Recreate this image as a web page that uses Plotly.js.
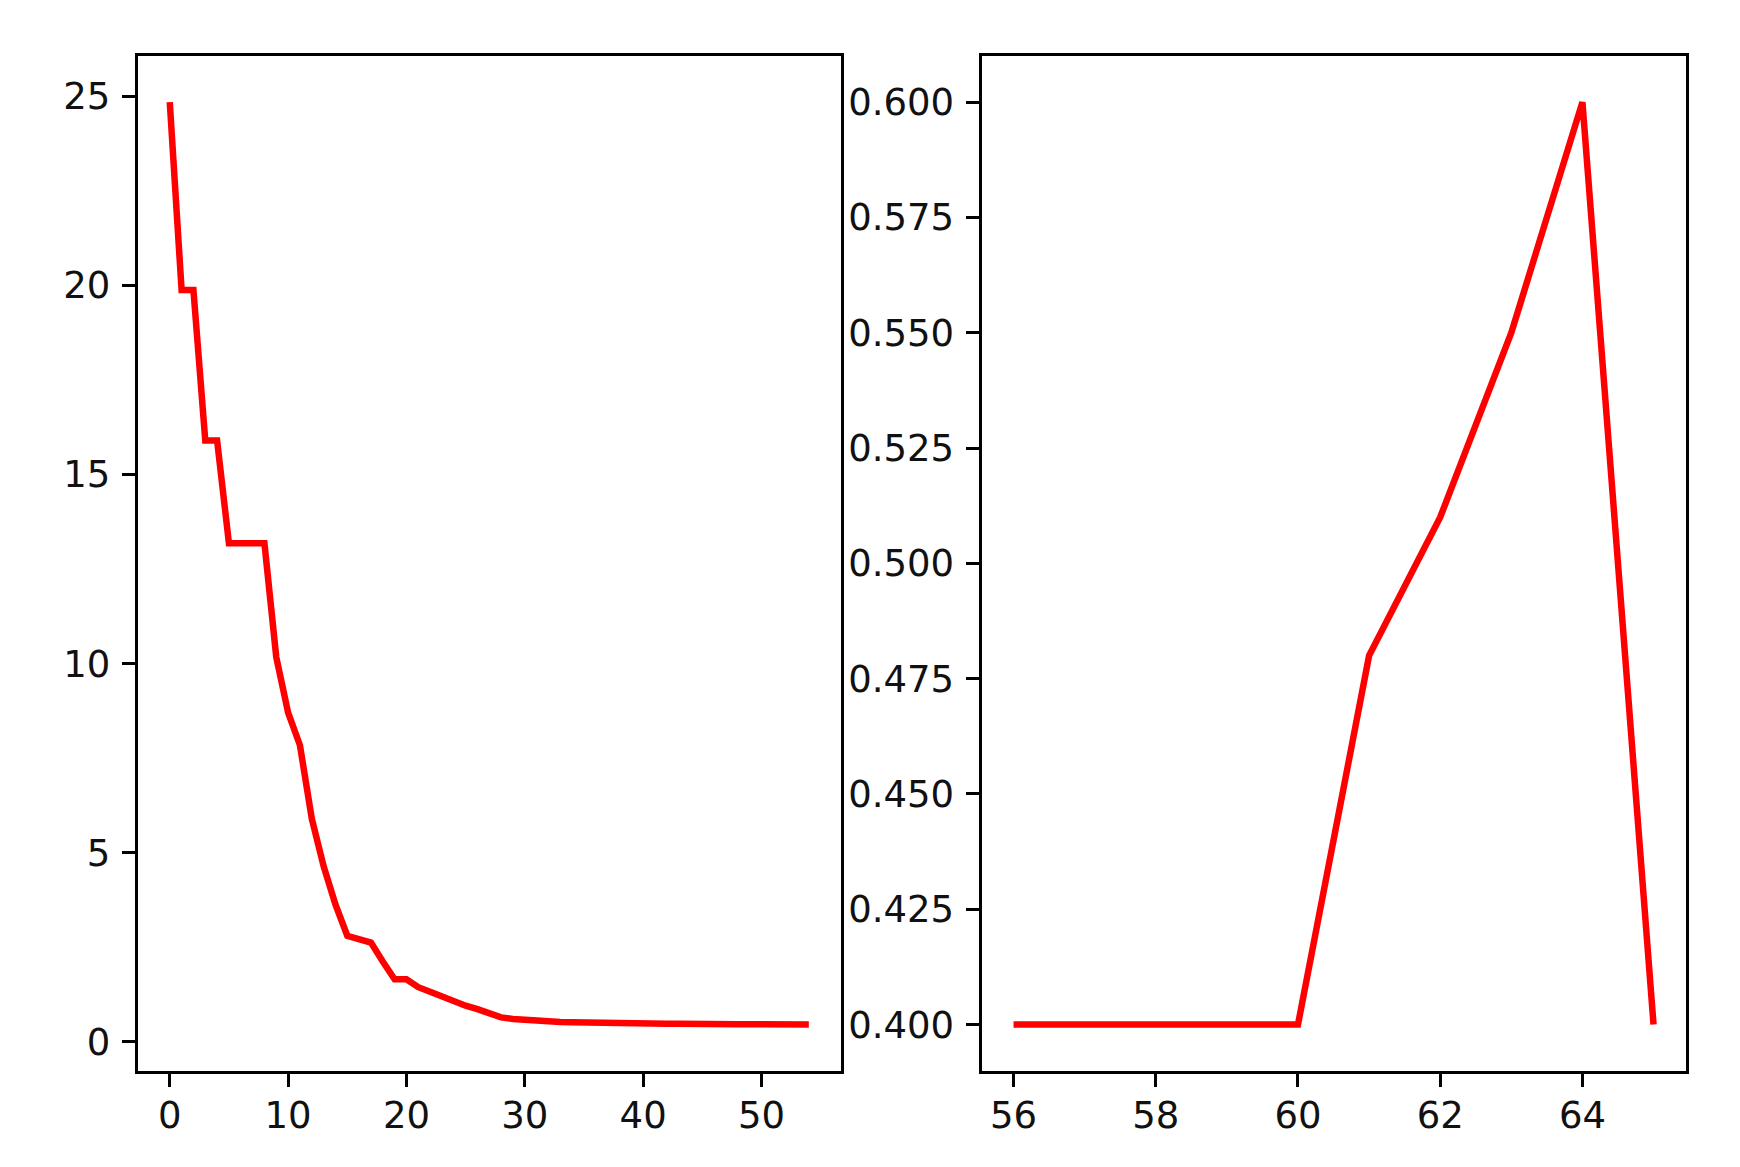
<!DOCTYPE html>
<html>
<head>
<meta charset="utf-8">
<script src="https://cdn.plot.ly/plotly-3.0.1.min.js"></script>
<style>html,body{margin:0;padding:0;background:#fff;}#chart{width:1740px;height:1167px;}</style>
</head>
<body>
<div id="chart"></div>
<script>
const leftX = [0,1,2,3,4,5,6,7,8,9,10,11,12,13,14,15,16,17,18,19,20,21,22,23,24,25,26,27,28,29,30,31,32,33,34,35,36,37,38,39,40,41,42,43,44,45,46,47,48,49,50,51,52,53,54];
const leftY = [24.85,19.88,19.88,15.9,15.9,13.18,13.18,13.18,13.18,10.17,8.7,7.84,5.9,4.64,3.63,2.8,2.7,2.62,2.12,1.65,1.65,1.44,1.32,1.19,1.07,0.95,0.86,0.76,0.64,0.6,0.57,0.55,0.53,0.52,0.51,0.5,0.49,0.48,0.48,0.47,0.47,0.47,0.47,0.47,0.46,0.46,0.46,0.46,0.46,0.46,0.45,0.45,0.45,0.45,0.45];
const rightX = [56,57,58,59,60,61,62,63,64,65];
const rightY = [0.4,0.4,0.4,0.4,0.4,0.48,0.51,0.55,0.6,0.4];
const leftYTicks = [0,5,10,15,20,25];
const leftXTicks = [0,10,20,30,40,50];
const rightYTicks = [0.4,0.425,0.45,0.475,0.5,0.525,0.55,0.575,0.6];
const rightXTicks = [56,58,60,62,64];

const lineStyle = {color: '#ff0000', width: 6.5};
const font = {family: 'DejaVu Sans', size: 37, color: '#111'};

function pad(arr){ const mn=Math.min(...arr), mx=Math.max(...arr), d=(mx-mn)*0.05; return [mn-d, mx+d]; }

const axisBase = {
  showline: true, mirror: true, linecolor: '#000', linewidth: 3,
  ticks: 'outside', ticklen: 13, tickwidth: 3, tickcolor: '#000',
  showgrid: false, zeroline: false, tickfont: font
};
const xBase = Object.assign({}, axisBase, {ticklabelstandoff: -3});
const yBase = Object.assign({}, axisBase, {ticklabelstandoff: 4});

const data = [
  {x: leftX, y: leftY, type: 'scatter', mode: 'lines', line: lineStyle, xaxis: 'x', yaxis: 'y', hoverinfo: 'skip'},
  {x: rightX, y: rightY, type: 'scatter', mode: 'lines', line: lineStyle, xaxis: 'x2', yaxis: 'y2', hoverinfo: 'skip'}
];

const layout = {
  width: 1740, height: 1167,
  margin: {l: 0, r: 0, t: 0, b: 0},
  paper_bgcolor: '#fff', plot_bgcolor: '#fff',
  showlegend: false,
  font: font,
  xaxis: Object.assign({}, xBase, {domain: [0.0792, 0.4832], range: pad(leftX), tickmode: 'array', tickvals: leftXTicks, anchor: 'y'}),
  yaxis: Object.assign({}, yBase, {domain: [0.0825, 0.9520], range: pad(leftY), tickmode: 'array', tickvals: leftYTicks, anchor: 'x'}),
  xaxis2: Object.assign({}, xBase, {domain: [0.5641, 0.9687], range: pad(rightX), tickmode: 'array', tickvals: rightXTicks, anchor: 'y2'}),
  yaxis2: Object.assign({}, yBase, {domain: [0.0825, 0.9520], range: pad(rightY), tickmode: 'array', tickvals: rightYTicks, ticktext: rightYTicks.map(v => v.toFixed(3)), anchor: 'x2'})
};

Plotly.newPlot('chart', data, layout, {staticPlot: true, displayModeBar: false});
</script>
</body>
</html>
